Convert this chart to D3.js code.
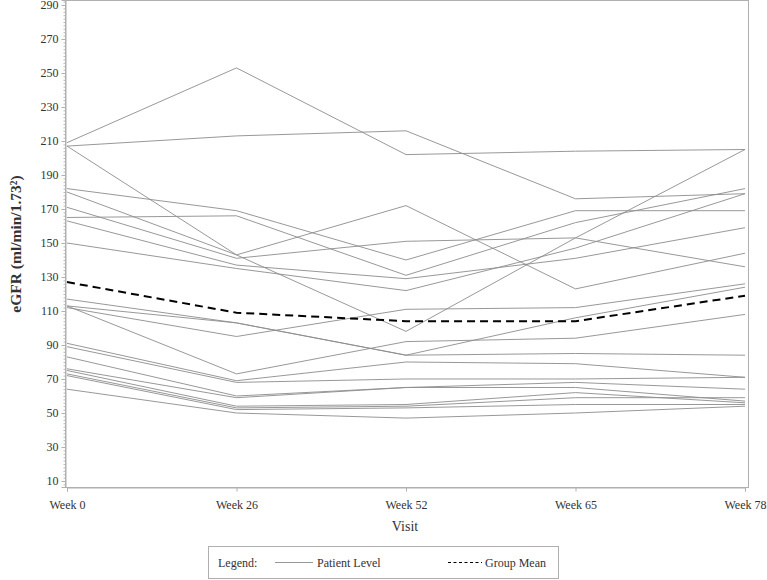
<!DOCTYPE html>
<html>
<head>
<meta charset="utf-8">
<script src="https://cdn.jsdelivr.net/npm/d3@7"></script>
<style>
  html, body { margin: 0; padding: 0; background: #fff; }
  svg { display: block; }
  text { font-family: "Liberation Serif", "Times New Roman", serif; fill: #333; }
</style>
</head>
<body>
<svg id="chart" width="767" height="580"></svg>
<script>
// ---- Data ----
const weeks = ["Week 0", "Week 26", "Week 52", "Week 65", "Week 78"];
const yTickValues = [10, 30, 50, 70, 90, 110, 130, 150, 170, 190, 210, 230, 250, 270, 290];

const p01 = [209, 253, 202, 204, 205];
const p02 = [207, 213, 216, 176, 179];
const p03 = [207, 143, 98, 153, 205];
const p04 = [182, 169, 140, 169, 169];
const p05 = [165, 166, 131, 162, 182];
const p06 = [180, 143, 172, 123, 144];
const p07 = [171, 141, 151, 153, 136];
const p08 = [163, 137, 129, 141, 159];
const p09 = [150, 135, 122, 147, 179];
const p10 = [117, 103, 84, 106, 124];
const p11 = [112, 95, 111, 112, 126];
const p12 = [113, 103, 84, 85, 84];
const p13 = [113, 73, 92, 94, 108];
const p14 = [91, 69, 80, 79, 71];
const p15 = [89, 68, 70, 70, 71];
const p16 = [83, 60, 65, 68, 64];
const p17 = [76, 59, 65, 65, 57];
const p18 = [75, 54, 55, 62, 56];
const p19 = [73, 53, 54, 59, 59];
const p20 = [72, 52, 53, 55, 55];
const p21 = [64, 50, 47, 50, 54];
const groupMean = [127, 109, 104, 104, 119];

const patients = [p01, p02, p03, p04, p05, p06, p07, p08, p09, p10, p11,
                  p12, p13, p14, p15, p16, p17, p18, p19, p20, p21];

// ---- Layout ----
const svg = d3.select("#chart");
const plotLeft = 65, plotRight = 748, plotTop = 0, plotBottom = 487;

const x = d3.scalePoint().domain(weeks).range([67, 745]);
const y = d3.scaleLinear().domain([6.47, 292.94]).range([plotBottom, plotTop]);

// Frame (top and right borders)
svg.append("rect")
  .attr("x", plotLeft + 0.5).attr("y", plotTop + 0.5)
  .attr("width", plotRight - plotLeft).attr("height", plotBottom - plotTop)
  .attr("fill", "none").attr("stroke", "#b0b0b0").attr("stroke-width", 1);

// Y axis: minor ticks
const minorTicks = d3.range(8, 293, 2).filter(v => !yTickValues.includes(v));
const yMinor = d3.axisLeft(y).tickValues(minorTicks).tickSize(2).tickFormat("");
const gMinor = svg.append("g").attr("transform", `translate(${plotLeft + 0.5},0)`).call(yMinor);
gMinor.select(".domain").remove();
gMinor.selectAll("line").attr("stroke", "#b8b8b8");

// Y axis: major ticks
const yAxis = d3.axisLeft(y).tickValues(yTickValues).tickSize(4).tickPadding(3);
const gy = svg.append("g").attr("transform", `translate(${plotLeft + 0.5},0)`).call(yAxis);
gy.select(".domain").attr("stroke", "#b0b0b0");
gy.selectAll(".tick line").attr("stroke", "#b0b0b0");
gy.selectAll(".tick text").style("font-family", "Liberation Serif, serif")
  .style("font-size", "12px").attr("fill", "#333");

// X axis
const xAxis = d3.axisBottom(x).tickSize(4).tickPadding(9);
const gx = svg.append("g").attr("transform", `translate(0,${plotBottom + 0.5})`).call(xAxis);
gx.select(".domain").attr("stroke", "#b0b0b0");
gx.selectAll(".tick line").attr("stroke", "#b0b0b0");
gx.selectAll(".tick text").style("font-family", "Liberation Serif, serif")
  .style("font-size", "12px").attr("fill", "#333");

// Lines
const line = d3.line().x((d, i) => x(weeks[i])).y(d => y(d));

svg.append("g").selectAll("path").data(patients).join("path")
  .attr("d", line)
  .attr("fill", "none")
  .attr("stroke", "#8c8c8c")
  .attr("stroke-width", 0.9);

svg.append("path")
  .datum(groupMean)
  .attr("d", line)
  .attr("fill", "none")
  .attr("stroke", "#000")
  .attr("stroke-width", 2)
  .attr("stroke-dasharray", "8,5");

// Axis titles
svg.append("text")
  .attr("x", 405).attr("y", 531)
  .attr("text-anchor", "middle")
  .style("font-size", "14px")
  .text("Visit");

svg.append("text")
  .attr("transform", `translate(21,244) rotate(-90)`)
  .attr("text-anchor", "middle")
  .style("font-size", "15.5px")
  .style("font-weight", "bold")
  .text("eGFR (ml/min/1.73²)");

// Legend
const lg = svg.append("g");
lg.append("rect")
  .attr("x", 208.5).attr("y", 546.5).attr("width", 350).attr("height", 32)
  .attr("fill", "none").attr("stroke", "#b0b0b0");
lg.append("text").attr("x", 218).attr("y", 567).style("font-size", "12px").text("Legend:");
lg.append("line").attr("x1", 275).attr("x2", 313).attr("y1", 562.5).attr("y2", 562.5)
  .attr("stroke", "#8c8c8c").attr("stroke-width", 0.9);
lg.append("text").attr("x", 317).attr("y", 567).style("font-size", "12px").text("Patient Level");
lg.append("line").attr("x1", 448).attr("x2", 482).attr("y1", 562.5).attr("y2", 562.5)
  .attr("stroke", "#000").attr("stroke-width", 1).attr("stroke-dasharray", "3,2.5");
lg.append("text").attr("x", 485).attr("y", 567).style("font-size", "12px").text("Group Mean");
</script>
</body>
</html>
